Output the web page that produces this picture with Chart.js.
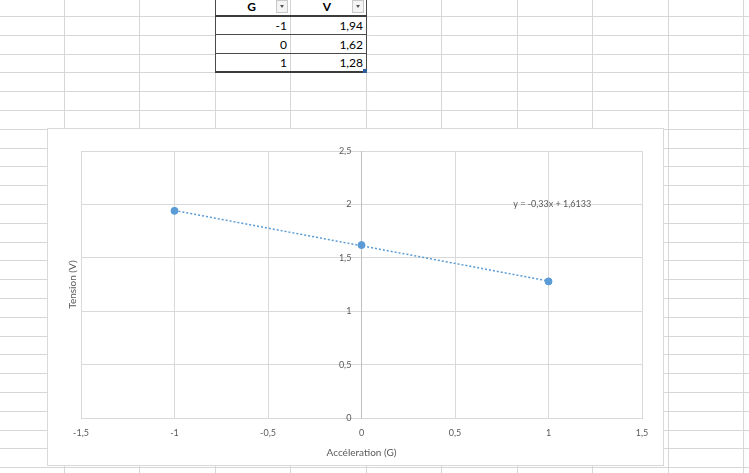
<!DOCTYPE html>
<html>
<head>
<meta charset="utf-8">
<script src="https://cdn.jsdelivr.net/npm/chart.js@4"></script>
<style>
  html, body { margin: 0; padding: 0; background: #fff; overflow: hidden; }
  body { width: 749px; height: 473px; position: relative; font-family: Lato, "Open Sans", sans-serif; }
  #sheet { position: absolute; left: 0; top: 0; }
  #tbl {
    position: absolute; left: 215px; top: -3px;
    border-collapse: collapse; background: #fff;
    font-size: 12px; color: #000;
  }
  #tbl th, #tbl td { padding: 0 3px 0 0; box-sizing: border-box; }
  #tbl th { height: 19px; font-weight: bold; text-align: center; position: relative;
            border-bottom: 2px solid #3c3c3c; }
  #tbl td { height: 18.8px; text-align: right; border-bottom: 1px solid #4a4a4a; }
  #tbl tr:last-child td { border-bottom: 2px solid #3c3c3c; }
  #tbl th:first-child, #tbl td:first-child { width: 75px; border-left: 1px solid #4a4a4a; border-right: 1px solid #d4d4d4; }
  #tbl th:last-child, #tbl td:last-child { width: 76px; border-right: 1px solid #4a4a4a; }
  .dd { position: absolute; right: 2px; top: 3px; width: 12px; height: 13px; box-sizing: border-box;
        border: 1px solid #c8c8c8; background: #f4f4f4; }
  .dd::after { content: ""; position: absolute; left: 3px; top: 4px; border-left: 2.5px solid transparent;
        border-right: 2.5px solid transparent; border-top: 3px solid #555; }
  .grip { position: absolute; left: 363px; top: 69px; width: 4px; height: 4px; background: #2f5f9f; }
  #chartBox {
    position: absolute; left: 47px; top: 128px; width: 617px; height: 338px;
    box-sizing: border-box; border: 1px solid #d9d9d9; background: #fff;
  }
  #chartWrap { position: relative; width: 615px; height: 336px; }
</style>
</head>
<body>
<canvas id="sheet" width="749" height="473"></canvas>
<table id="tbl"></table>
<div class="grip"></div>
<div id="chartBox"><div id="chartWrap"><canvas id="myChart"></canvas></div></div>

<script>
const gValues = [-1, 0, 1];
const vValues = [1.94, 1.62, 1.28];
const headers = ['G', 'V'];

const trendX = [-1, 1];
const trendY = [1.9433, 1.2833];
const trendLabel = 'y = -0,33x + 1,6133';

const xTicks = [-1.5, -1, -0.5, 0, 0.5, 1, 1.5];
const yTicks = [0, 0.5, 1, 1.5, 2, 2.5];
const xTitle = 'Accéleration (G)';
const yTitle = 'Tension (V)';

const comma = v => String(v).replace('.', ',');

// quadrillage de la feuille
const g = document.getElementById('sheet').getContext('2d');
g.strokeStyle = '#d6d6d6';
g.lineWidth = 1;
for (let x = 64; x < 749; x += 75.45) {
  g.beginPath(); g.moveTo(Math.round(x) + 0.5, 0); g.lineTo(Math.round(x) + 0.5, 473); g.stroke();
}
for (let y = 16; y < 473; y += 18.8) {
  g.beginPath(); g.moveTo(0, Math.round(y) + 0.5); g.lineTo(749, Math.round(y) + 0.5); g.stroke();
}

// tableau
const tbl = document.getElementById('tbl');
tbl.innerHTML = '<tr>' + headers.map(h => `<th>${h}<span class="dd"></span></th>`).join('') + '</tr>' +
  gValues.map((gv, i) => `<tr><td>${comma(gv)}</td><td>${comma(vValues[i])}</td></tr>`).join('');

// textes dessines a la main : titre Y + equation
const extras = {
  id: 'extras',
  afterDraw(chart) {
    const {ctx, chartArea, scales} = chart;
    ctx.save();
    ctx.fillStyle = '#595959';
    ctx.font = '10px Lato';
    ctx.textAlign = 'center';
    ctx.textBaseline = 'middle';
    ctx.translate(chartArea.left - 8, (chartArea.top + chartArea.bottom) / 2);
    ctx.rotate(-Math.PI / 2);
    ctx.fillText(yTitle, 0, 0);
    ctx.restore();

    ctx.save();
    ctx.fillStyle = '#595959';
    ctx.font = '9px Lato';
    ctx.textAlign = 'center';
    ctx.textBaseline = 'middle';
    ctx.fillText(trendLabel, scales.x.getPixelForValue(1.02), scales.y.getPixelForValue(2));
    ctx.restore();
  }
};

const ctx = document.getElementById('myChart').getContext('2d');
const myChart = new Chart(ctx, {
  type: 'scatter',
  data: {
    datasets: [{
      label: 'V',
      data: gValues.map((x, i) => ({x: x, y: vValues[i]})),
      backgroundColor: '#5b9bd5',
      borderColor: '#5b9bd5',
      pointRadius: 3.5,
      pointHoverRadius: 3.5,
      showLine: false,
      order: 0
    }, {
      label: 'tendance',
      data: trendX.map((x, i) => ({x: x, y: trendY[i]})),
      borderColor: '#5b9bd5',
      borderWidth: 1.5,
      borderDash: [2, 2],
      pointRadius: 0,
      showLine: true,
      order: 1
    }]
  },
  options: {
    responsive: true,
    maintainAspectRatio: false,
    animation: false,
    layout: { padding: { left: 33, right: 21, top: 22, bottom: 0 } },
    plugins: { legend: { display: false }, tooltip: { enabled: false } },
    scales: {
      x: {
        type: 'linear',
        position: 'bottom',
        min: -1.5, max: 1.5,
        afterBuildTicks: s => { s.ticks = xTicks.map(v => ({value: v})); },
        grid: { color: '#d9d9d9', drawTicks: false },
        border: { color: '#d9d9d9' },
        ticks: { color: '#595959', font: { family: 'Lato', size: 9 }, padding: 9, callback: v => comma(v) },
        title: { display: true, text: xTitle, color: '#595959', font: { family: 'Lato', size: 10 },
                 padding: { top: 0, bottom: 6 } }
      },
      y: {
        type: 'linear',
        position: { x: 0 },
        min: 0, max: 2.5,
        afterBuildTicks: s => { s.ticks = yTicks.map(v => ({value: v})); },
        grid: { color: '#d9d9d9', drawTicks: false },
        border: { color: '#bfbfbf' },
        // espaces en fin de label pour decoller le texte de l'axe
        ticks: { color: '#595959', font: { family: 'Lato', size: 9 }, callback: v => comma(v) + '\u2002\u2002\u2009' }
      }
    }
  },
  plugins: [extras]
});
</script>
</body>
</html>
